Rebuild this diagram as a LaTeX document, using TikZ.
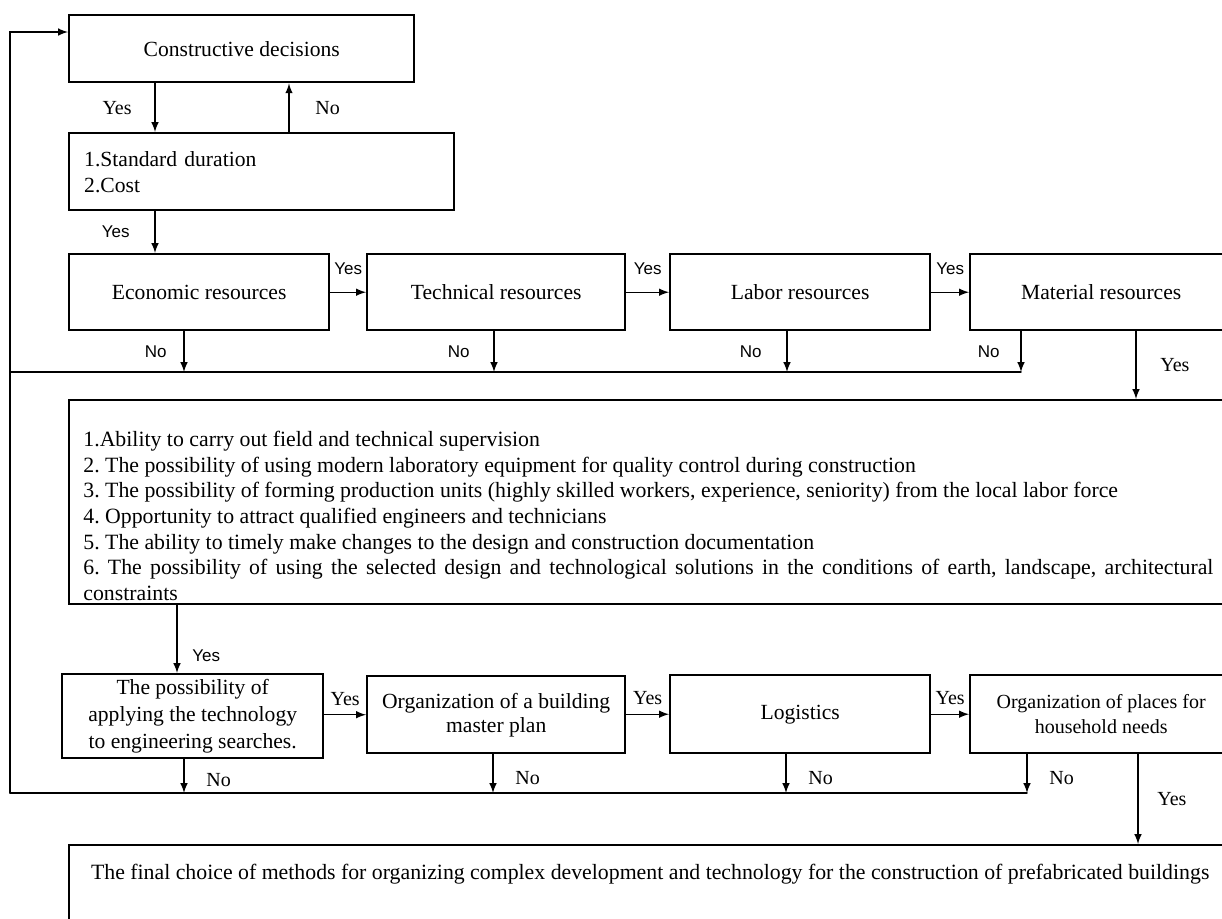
\documentclass[tikz,border=0pt]{standalone}
\usepackage{fontspec}
\setmainfont{Liberation Serif}
\setsansfont{Liberation Sans}
\begin{document}
\begin{tikzpicture}[x=.5pt,y=-.5pt,line cap=round,
  box/.style={draw,line width=1.2pt,anchor=north west,inner sep=0pt,align=center,font=\fontsize{10.8}{13}\selectfont},
  con/.style={line width=.7pt,-latex},
  sno/.style={font=\sffamily\fontsize{8.5}{10}\selectfont},
  rno/.style={font=\fontsize{10}{12}\selectfont}]
\useasboundingbox (0,0) rectangle (1222,918);
\clip (0,0) rectangle (1222,918);

\node[box,minimum width=172.5pt,minimum height=33.5pt] (cd) at (68,14) {Constructive decisions};
\node[box,align=left,text width=177.5pt,inner xsep=7.5pt,minimum height=38.5pt] (std) at (68,132) {1.Standard duration\\2.Cost};

% resources
\foreach \n/\xa/\xb/\t in {eco/68/328/Economic resources,tec/366/624/Technical resources,lab/669/929/Labor resources,mat/969/1231/Material resources}
  \node[box,minimum width={(\xb-\xa)*.5pt},minimum height=38pt] (\n) at (\xa,253) {\t};

\node[box,minimum width=581pt,minimum height=102pt] (big) at (68,399) {};
\node[anchor=north west,text width=565pt,align=justify,inner sep=0pt,font=\fontsize{10.9}{12.8}\selectfont\frenchspacing] (crit) at (83,431) {1.Ability to carry out field and technical supervision\\
2. The possibility of using modern laboratory equipment for quality control during construction\\
3. The possibility of forming production units (highly skilled workers, experience, seniority) from the local labor force\\
4. Opportunity to attract qualified engineers and technicians\\
5. The ability to timely make changes to the design and construction documentation\\
6. The possibility of using the selected design and technological solutions in the conditions of earth, landscape, architectural \mbox{constraints}};

% second row
\node[box,minimum width=130.5pt,minimum height=42pt,font=\fontsize{10.8}{13.5}\selectfont] (poss) at (61,673) {The possibility of\\applying the technology\\to engineering searches.};
\node[box,minimum width=129pt,minimum height=38.5pt,font=\fontsize{10.8}{12}\selectfont] (plan) at (366,675) {Organization of a building\\master plan};
\node[box,minimum width=130pt,minimum height=39pt] (log) at (669,674) {Logistics};
\node[box,minimum width=131pt,minimum height=39pt,font=\fontsize{10}{12.5}\selectfont] (hh) at (969,674) {Organization of places for\\household needs};

\node[box,minimum width=581pt,text height=17pt,text depth=31pt,font=\fontsize{10.9}{13}\selectfont] (fin) at (68,844) {The final choice of methods for organizing complex development and technology for the construction of prefabricated buildings};

\coordinate (fbt) at (10,32);
\coordinate (fb1) at (10,372);
\coordinate (fb2) at (10,793);

% top checks
\draw[con] ([xshift=43.5pt]cd.south west) -- node[rno,left=8pt] (cd-y) {Yes} ([xshift=43.5pt]std.north west);
\draw[con] ([xshift=110.5pt]std.north west) -- node[rno,right=9.5pt] (std-n) {No} ([xshift=110.5pt]cd.south west);
\draw[con] ([xshift=43.5pt]std.south west) -- node[sno,left=9pt] (std-y) {Yes} ([xshift=43.5pt]eco.north west);

\foreach \a/\b in {eco/tec,tec/lab,lab/mat}
  \draw[con] (\a.east) -- node[sno,above=5pt] (\a-y) {Yes} (\b.west);

\foreach \n/\dx/\d in {eco/58/5,tec/64/8.5,lab/59/9,mat/26/7} {
  \coordinate (\n-no) at ([xshift=\dx pt]\n.south west);
  \draw[con] (\n-no) -- node[sno,left=\d pt] (\n-nl) {No} (\n-no |- fb1);
}
\draw[line width=.7pt] (fb1) -- (mat-no |- fb1);

\coordinate (mat-yes) at ([xshift=83.5pt]mat.south west);
\draw[con] (mat-yes) -- node[rno,right=8.5pt] (mat-yl) {Yes} (mat-yes |- big.north);

\coordinate (big-yes) at ([xshift=54.5pt]big.south west);
\draw[con] (big-yes) -- node[sno,right=4pt,pos=.75] (big-yl) {Yes} (big-yes |- poss.north);

\foreach \a/\b in {poss/plan,plan/log,log/hh}
  \draw[con] (\a.east |- \b.west) -- node[rno,above=1pt] (\a-y) {Yes} (\b.west);

\foreach \n/\dx in {poss/61.5,plan/63.5,log/58.5,hh/29} {
  \coordinate (\n-no) at ([xshift=\dx pt]\n.south west);
  \draw[con] (\n-no) -- node[rno,right=7.5pt,pos=.6] (\n-nl) {No} (\n-no |- fb2);
}
\draw[line width=.7pt] (fb2) -- (hh-no |- fb2);

\coordinate (hh-yes) at ([xshift=84.5pt]hh.south west);
\draw[con] (hh-yes) -- node[rno,right=6pt] (hh-yl) {Yes} (hh-yes |- fin.north);

% back to the start
\draw[con] (fb2) -- (fbt) -- (fbt -| cd.west);
\end{tikzpicture}
\end{document}
